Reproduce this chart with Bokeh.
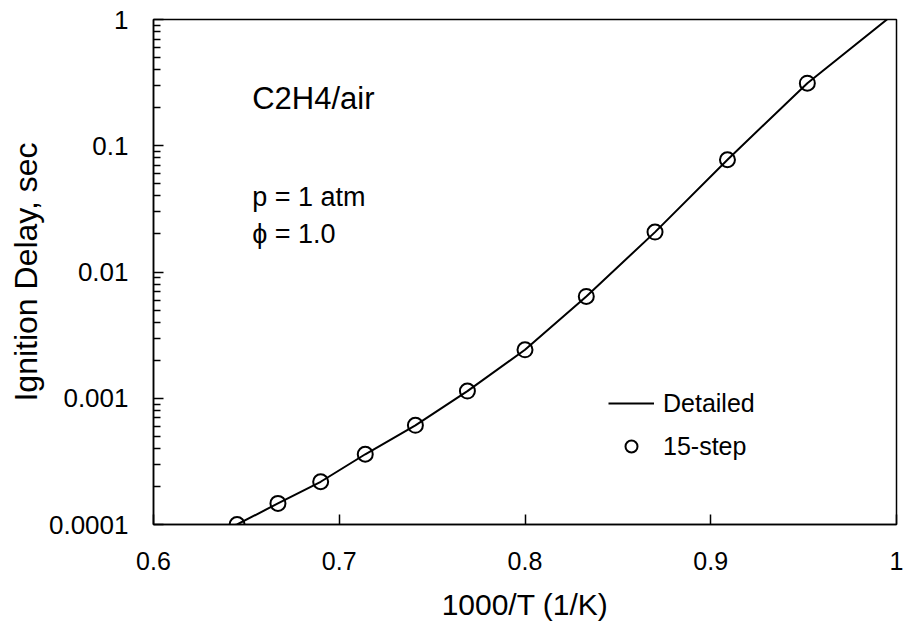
from bokeh.plotting import figure
from bokeh.models import Range1d, FixedTicker, Label, Legend, LegendItem
from bokeh.embed import file_html
from bokeh.resources import INLINE

# ---- data ----
x_ticks = [0.6, 0.7, 0.8, 0.9, 1.0]
x_tick_labels = ["0.6", "0.7", "0.8", "0.9", "1"]
y_ticks = [1e-4, 1e-3, 1e-2, 1e-1, 1.0]
y_tick_labels = ["0.0001", "0.001", "0.01", "0.1", "1"]

detailed_x = [0.628, 0.645, 0.667, 0.690, 0.714, 0.741, 0.769, 0.800, 0.833, 0.870, 0.909, 0.952, 1.0]
detailed_y = [8.5e-5, 1.0e-4, 1.47e-4, 2.18e-4, 3.6e-4, 6.1e-4, 1.14e-3, 2.42e-3, 6.4e-3, 0.0207, 0.0775, 0.313, 1.15]

step15_x = [0.645, 0.667, 0.690, 0.714, 0.741, 0.769, 0.800, 0.833, 0.870, 0.909, 0.952]
step15_y = [1.0e-4, 1.47e-4, 2.18e-4, 3.6e-4, 6.1e-4, 1.14e-3, 2.42e-3, 6.4e-3, 0.0207, 0.0775, 0.313]

series_names = ["Detailed", "15-step"]
annotations = ["C2H4/air", "p = 1 atm", "ϕ = 1.0"]
x_title = "1000/T (1/K)"
y_title = "Ignition Delay, sec"

FONT = "Liberation Sans"

p = figure(width=903, height=639, y_axis_type="log",
           x_range=Range1d(0.6, 1.0), y_range=Range1d(1e-4, 1.0),
           output_backend="svg", toolbar_location=None,
           min_border_left=153, min_border_right=7,
           min_border_top=19, min_border_bottom=115)
p.grid.visible = False
p.background_fill_color = "white"
p.border_fill_color = "white"
p.outline_line_color = "black"
p.outline_line_width = 1.5

# x axis
xa = p.xaxis[0]
xa.ticker = FixedTicker(ticks=x_ticks, minor_ticks=[])
xa.major_label_overrides = dict(zip(x_ticks, x_tick_labels))
xa.major_tick_in = 10
xa.major_tick_out = 0
xa.minor_tick_in = 0
xa.minor_tick_out = 0
xa.axis_line_width = 1.5
xa.major_tick_line_width = 1.5
xa.major_label_text_font = FONT
xa.major_label_text_font_size = "25px"
xa.major_label_text_color = "black"
xa.major_label_standoff = 27
xa.axis_label = x_title
xa.axis_label_text_font = FONT
xa.axis_label_text_font_size = "30px"
xa.axis_label_text_font_style = "normal"
xa.axis_label_text_color = "black"
xa.axis_label_standoff = 15

# y axis
minor = [m * 10.0 ** e for e in range(-4, 0) for m in range(2, 10)]
ya = p.yaxis[0]
ya.ticker = FixedTicker(ticks=y_ticks, minor_ticks=minor)
ya.major_label_overrides = dict(zip(y_ticks, y_tick_labels))
ya.major_tick_in = 10
ya.major_tick_out = 0
ya.minor_tick_in = 7
ya.minor_tick_out = 0
ya.axis_line_width = 1.5
ya.major_tick_line_width = 1.5
ya.minor_tick_line_width = 1.3
ya.major_label_text_font = FONT
ya.major_label_text_font_size = "26px"
ya.major_label_text_color = "black"
ya.major_label_standoff = 25
ya.axis_label = y_title
ya.axis_label_text_font = FONT
ya.axis_label_text_font_size = "32px"
ya.axis_label_text_font_style = "normal"
ya.axis_label_text_color = "black"
ya.axis_label_standoff = 2

r_line = p.line(detailed_x, detailed_y, line_color="black", line_width=2)
r_pts = p.scatter(step15_x, step15_y, marker="circle", size=15,
                  fill_color=None, line_color="black", line_width=2)

legend = Legend(items=[LegendItem(label=series_names[0], renderers=[r_line]),
                       LegendItem(label=series_names[1], renderers=[r_pts])],
                location=(455, 63), orientation="vertical",
                border_line_color=None, background_fill_alpha=0,
                padding=0, margin=0, spacing=13,
                glyph_width=46, glyph_height=30, label_height=30,
                label_standoff=9, label_text_font=FONT,
                label_text_font_size="25px", label_text_color="black")
p.add_layout(legend)

ann_x = [0.6531, 0.6531, 0.6531]
ann_y = [0.2355, 0.0391, 0.0201]
ann_size = ["31px", "27px", "27px"]
for t, ax_, ay_, sz in zip(annotations, ann_x, ann_y, ann_size):
    p.add_layout(Label(x=ax_, y=ay_, text=t, text_font=FONT, text_font_size=sz,
                       text_baseline="alphabetic", text_align="left",
                       text_color="black"))

open("out.html", "w").write(file_html(p, INLINE))
